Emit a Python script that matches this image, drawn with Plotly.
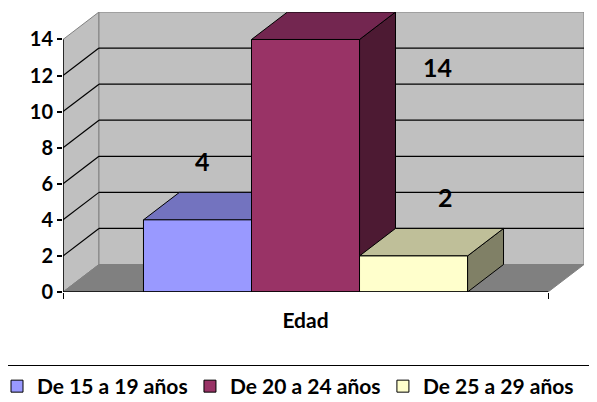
import plotly.graph_objects as go

# ---------------- data ----------------
categories = ["Edad"]
series_names = ["De 15 a 19 años", "De 20 a 24 años", "De 25 a 29 años"]
values = [4, 14, 2]
y_ticks = [0, 2, 4, 6, 8, 10, 12, 14]

# ---------------- style ----------------
front_colors = ["#9999FF", "#993366", "#FFFFCC"]
top_colors = ["#7373BF", "#732650", "#BFBF99"]
side_colors = ["#4D4D80", "#4D1A33", "#808066"]
wall_color = "#C0C0C0"
floor_color = "#808080"
edge_color = "#808080"
FONT = "Lato"

# 3D geometry in axis units
gap = 0.745        # space between the wall and the first / last bar
bar_w = 1.0
dx, dy = 0.333, 1.524   # depth offset
floor_w = 2 * gap + bar_w * len(values)
x_max = floor_w + dx
y_top = max(y_ticks)
y_max = y_top + dy


def path(pts):
    return "M" + " L".join(f"{x},{y}" for x, y in pts) + " Z"


fig = go.Figure()
shapes = []

# walls and floor
shapes.append(dict(type="path", path=path([(0, 0), (dx, dy), (dx, y_max), (0, y_top)]),
                   fillcolor=wall_color, line=dict(color=edge_color, width=1)))
shapes.append(dict(type="rect", x0=dx, y0=dy, x1=x_max, y1=y_max,
                   fillcolor=wall_color, line=dict(color=edge_color, width=1)))
shapes.append(dict(type="path", path=path([(0, 0), (floor_w, 0), (x_max, dy), (dx, dy)]),
                   fillcolor=floor_color, line=dict(color=floor_color, width=1)))

# gridlines (side wall diagonals + back wall horizontals)
for v in y_ticks[1:-1]:
    shapes.append(dict(type="line", x0=0, y0=v, x1=dx, y1=v + dy, line=dict(color="black", width=1.2)))
    shapes.append(dict(type="line", x0=dx, y0=v + dy, x1=x_max, y1=v + dy, line=dict(color="black", width=1.2)))

# bars (drawn left to right: side, top, front)
for i, v in enumerate(values):
    x0 = gap + i * bar_w
    x1 = x0 + bar_w
    shapes.append(dict(type="path", path=path([(x1, 0), (x1 + dx, dy), (x1 + dx, v + dy), (x1, v)]),
                       fillcolor=side_colors[i], line=dict(color="black", width=1)))
    shapes.append(dict(type="path", path=path([(x0, v), (x1, v), (x1 + dx, v + dy), (x0 + dx, v + dy)]),
                       fillcolor=top_colors[i], line=dict(color="black", width=1)))
    shapes.append(dict(type="rect", x0=x0, y0=0, x1=x1, y1=v,
                       fillcolor=front_colors[i], line=dict(color="black", width=1)))

# front axes lines
shapes.append(dict(type="line", x0=0, y0=0, x1=0, y1=y_top, line=dict(color="black", width=1.5)))
shapes.append(dict(type="line", x0=0, y0=0, x1=floor_w, y1=0, line=dict(color="black", width=1.5)))

for s in shapes:
    s.update(xref="x", yref="y", layer="above")
fig.update_layout(shapes=shapes)

# data labels
label_nudge = [0.05, 0.0, 0.3]
annotations = []
for i, v in enumerate(values):
    cx = gap + i * bar_w + bar_w / 2
    ly = v + dy + 1.75
    lx = cx + label_nudge[i]
    if ly > y_max - 0.5:       # no room above: put it beside the bar
        lx = gap + (i + 1) * bar_w + dx + 0.39
        ly = v - 1.5
    annotations.append(dict(x=lx, y=ly, xref="x", yref="y", text=str(v), showarrow=False,
                            font=dict(family=FONT, size=25, color="black", weight="bold")))
fig.update_layout(annotations=annotations)

# legend entries
for i, name in enumerate(series_names):
    fig.add_trace(go.Scatter(x=[None], y=[None], mode="markers", name=name,
                             marker=dict(symbol="square", size=12, color=front_colors[i],
                                         line=dict(color="black", width=1))))

# the page adds an 8px body margin, so the figure is 8px smaller and all
# pixel positions are 8px less than in the 597x402 picture
OFF = 8
W, H = 597 - OFF, 402 - OFF
ml, mr, mt, mb = 63 - OFF, 13, 12 - OFF, 110
pw, ph = W - ml - mr, H - mt - mb

fig.update_layout(
    width=W, height=H,
    margin=dict(l=ml, r=mr, t=mt, b=mb, pad=0, autoexpand=False),
    paper_bgcolor="white", plot_bgcolor="white",
    xaxis=dict(range=[0, x_max], showgrid=False, zeroline=False, showline=False,
               tickmode="array", tickvals=[floor_w / 2], ticktext=categories, ticks="",
               ticklabelstandoff=14,
               tickfont=dict(family=FONT, size=21, color="black", weight="bold"),
               minor=dict(tickmode="array", tickvals=[0, floor_w], ticks="outside",
                          ticklen=6, tickcolor="black", tickwidth=1),
               fixedrange=True),
    yaxis=dict(range=[0, y_max], showgrid=False, zeroline=False, showline=False,
               tickmode="array", tickvals=y_ticks, ticks="outside", ticklen=5,
               tickcolor="black", tickwidth=1.5,
               tickfont=dict(family=FONT, size=20, color="black", weight="bold"),
               fixedrange=True),
    showlegend=True,
    legend=dict(orientation="h", x=(-4 - ml) / pw, xanchor="left",
                y=(H - mb - (365 - OFF)) / ph, yanchor="top",
                bordercolor="black", borderwidth=1, bgcolor="white",
                indentation=-8,
                entrywidth=0.335, entrywidthmode="fraction",
                font=dict(family=FONT, size=21, color="black", weight="bold"),
                itemclick=False, itemdoubleclick=False),
)

fig.write_html("out.html")
